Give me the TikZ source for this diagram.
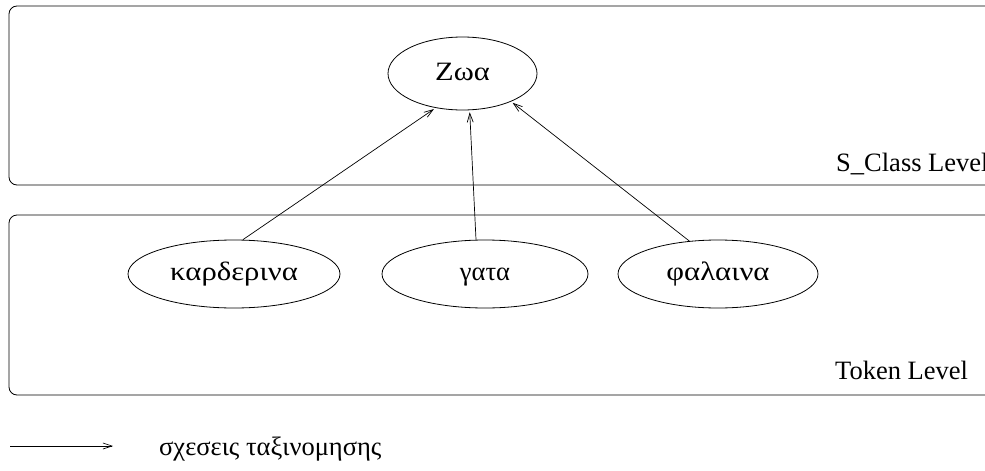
\documentclass[tikz,border=0pt]{standalone}
\usepackage{fontspec}
\setmainfont{Liberation Serif}
\usetikzlibrary{shapes.geometric,arrows.meta}
\begin{document}
\begin{tikzpicture}[x=1pt,y=-1pt,
  every node/.style={font=\fontsize{26.5}{30}\selectfont},
  level/.style={draw,line width=0.8pt,rounded corners=8pt},
  ell/.style={draw,ellipse,line width=0.8pt,inner sep=0pt,text height=13pt,text depth=0pt},
  arr/.style={line width=0.7pt,-{Straight Barb[length=9pt,width=6pt,line width=0.7pt]},shorten >=2pt},
  lbl/.style={anchor=base west,inner sep=0pt}]
\useasboundingbox (0,0) rectangle (985,471);
\clip (0,0) rectangle (985,471);
\draw[level] (9,6) rectangle (1010,185);
\draw[level] (9,215) rectangle (1010,395);
\node[ell,minimum width=149pt,minimum height=73pt] (zoa) at (462.5,73.5) {\scalebox{1.15}[1]{Ζωα}};
\node[ell,minimum width=212pt,minimum height=68pt] (kard) at (234,274) {\scalebox{1.16}[1]{καρδερινα}};
\node[ell,minimum width=206pt,minimum height=68pt] (gata) at (485,274) {γατα};
\node[ell,minimum width=200pt,minimum height=68pt] (fal) at (718,274) {\scalebox{1.16}[1]{φαλαινα}};
\node[lbl] (scl) at (836,171) {S\_Class Level};
\node[lbl] (tok) at (835,379) {Token Level};
\draw[arr] ([xshift=9pt]kard.north) -- (zoa.232.5);
\draw[arr] ([xshift=-9pt]gata.north) -- (zoa.281);
\draw[arr] (fal.131) -- (zoa.330);
\coordinate (la) at (10,446);
\coordinate (lb) at (113,446);
\draw[arr,shorten >=0pt] (la) -- (lb);
\node[lbl] (leg) at (159,455) {σχεσεις ταξινομησης};
\end{tikzpicture}
\end{document}
